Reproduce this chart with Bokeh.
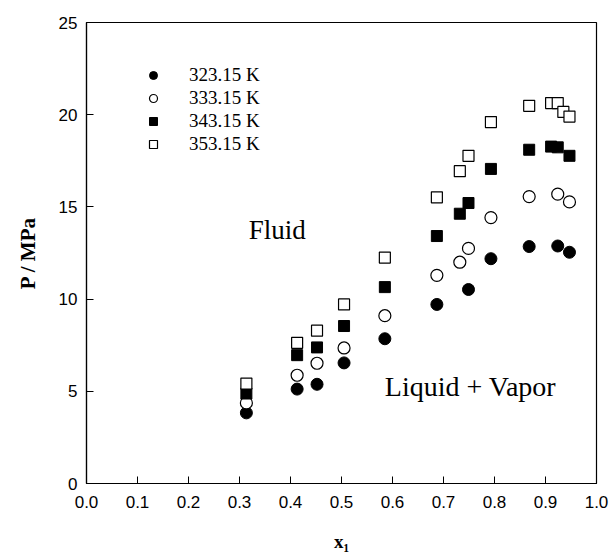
from bokeh.plotting import figure
from bokeh.models import (Range1d, FixedTicker, NumeralTickFormatter, Label,
                          Legend, LegendItem)
from bokeh.embed import file_html
from bokeh.resources import INLINE

# ---- data ----
x_323 = [0.3135, 0.413, 0.452, 0.505, 0.585, 0.687, 0.749, 0.793, 0.868, 0.924, 0.947]
p_323 = [3.83, 5.12, 5.38, 6.54, 7.85, 9.71, 10.52, 12.19, 12.85, 12.88, 12.54]

x_333 = [0.3135, 0.413, 0.452, 0.505, 0.585, 0.687, 0.732, 0.749, 0.793, 0.868, 0.924, 0.947]
p_333 = [4.37, 5.87, 6.52, 7.35, 9.10, 11.29, 12.00, 12.75, 14.42, 15.56, 15.69, 15.27]

x_343 = [0.3135, 0.413, 0.452, 0.505, 0.585, 0.687, 0.732, 0.749, 0.793, 0.868, 0.911, 0.924, 0.947]
p_343 = [4.88, 6.96, 7.38, 8.54, 10.65, 13.42, 14.63, 15.21, 17.06, 18.10, 18.27, 18.23, 17.77]

x_353 = [0.3135, 0.413, 0.452, 0.505, 0.585, 0.687, 0.732, 0.749, 0.793, 0.868, 0.911, 0.924, 0.935, 0.947]
p_353 = [5.42, 7.63, 8.29, 9.71, 12.25, 15.52, 16.94, 17.77, 19.60, 20.48, 20.63, 20.63, 20.15, 19.90]

series_labels = ["323.15 K", "333.15 K", "343.15 K", "353.15 K"]
x_ticks = [0.0, 0.1, 0.2, 0.3, 0.4, 0.5, 0.6, 0.7, 0.8, 0.9, 1.0]
y_ticks = [0, 5, 10, 15, 20, 25]

SERIF = "Liberation Serif"
SANS = "Liberation Sans"

p = figure(width=609, height=556, output_backend="svg", toolbar_location=None,
           x_range=Range1d(0, 1), y_range=Range1d(0, 25),
           min_border_left=86, min_border_right=13, min_border_top=22,
           min_border_bottom=73)
p.background_fill_color = "white"
p.border_fill_color = "white"
p.grid.visible = False
p.outline_line_color = "black"
p.outline_line_width = 1.2

for ax in (p.xaxis[0], p.yaxis[0]):
    ax.major_tick_in = 7
    ax.major_tick_out = 0
    ax.minor_tick_line_color = None
    ax.axis_line_color = "black"
    ax.axis_line_width = 1.2
    ax.major_tick_line_color = "black"
    ax.major_label_text_font = SANS
    ax.major_label_text_font_size = "17px"
    ax.major_label_text_color = "black"

p.xaxis.ticker = FixedTicker(ticks=x_ticks)
p.xaxis.formatter = NumeralTickFormatter(format="0.0")
p.xaxis.major_label_standoff = 12
p.yaxis.ticker = FixedTicker(ticks=y_ticks)
p.yaxis.major_label_standoff = 9

p.yaxis.axis_label = "P / MPa"
p.yaxis.axis_label_text_font = SERIF
p.yaxis.axis_label_text_font_style = "bold"
p.yaxis.axis_label_text_font_size = "21px"
p.yaxis.axis_label_text_color = "black"
p.yaxis.axis_label_standoff = 16

p.xaxis.axis_label = "x\u2081"
p.xaxis.axis_label_text_font = SERIF
p.xaxis.axis_label_text_font_style = "bold"
p.xaxis.axis_label_text_font_size = "19px"
p.xaxis.axis_label_text_color = "black"
p.xaxis.axis_label_standoff = 20

r1 = p.scatter(x_323, p_323, marker="circle", size=12, fill_color="black", line_color="black")
r2 = p.scatter(x_333, p_333, marker="circle", size=12, fill_color="white", line_color="black", line_width=1.2)
r3 = p.scatter(x_343, p_343, marker="square", size=11, fill_color="black", line_color="black")
r4 = p.scatter(x_353, p_353, marker="square", size=11, fill_color="white", line_color="black", line_width=1.2)

legend = Legend(items=[LegendItem(label=l, renderers=[r]) for l, r in
                       zip(series_labels, [r1, r2, r3, r4])],
                location=(57, 328), margin=0, padding=0, spacing=1,
                glyph_width=20, glyph_height=20, label_height=20,
                label_standoff=26, border_line_color=None,
                background_fill_alpha=0,
                label_text_font=SERIF, label_text_font_size="19px",
                label_text_color="black")
p.add_layout(legend)

p.add_layout(Label(x=0.318, y=13.77, text="Fluid", text_font=SERIF,
                   text_font_size="27px", text_color="black",
                   text_baseline="alphabetic"))
p.add_layout(Label(x=0.585, y=5.28, text="Liquid + Vapor", text_font=SERIF,
                   text_font_size="28px", text_color="black",
                   text_baseline="alphabetic"))

open("out.html", "w").write(file_html(p, INLINE))
